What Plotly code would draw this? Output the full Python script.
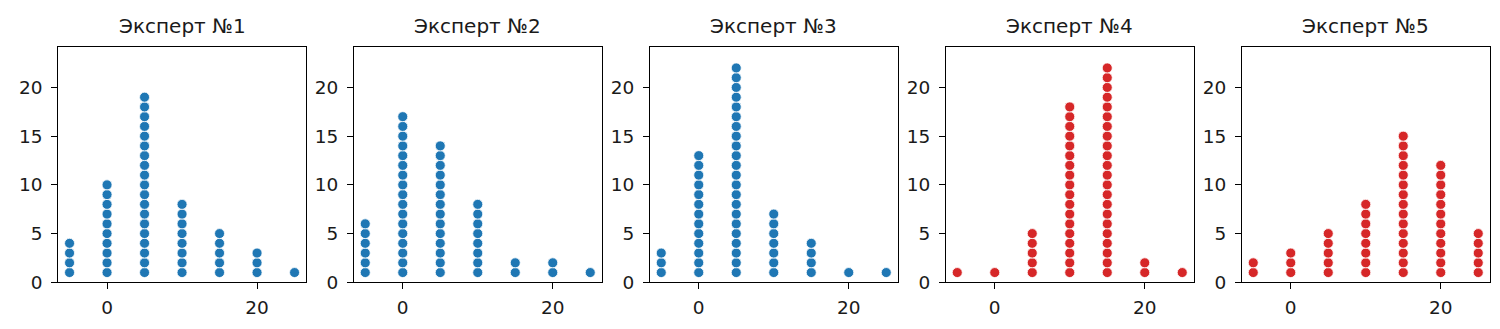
import plotly.graph_objects as go

titles = ["Эксперт №1", "Эксперт №2", "Эксперт №3", "Эксперт №4", "Эксперт №5"]
bins = [-5, 0, 5, 10, 15, 20, 25]
counts_1 = [4, 10, 19, 8, 5, 3, 1]
counts_2 = [6, 17, 14, 8, 2, 2, 1]
counts_3 = [3, 13, 22, 7, 4, 1, 1]
counts_4 = [1, 1, 5, 18, 22, 2, 1]
counts_5 = [2, 3, 5, 8, 15, 12, 5]
all_counts = [counts_1, counts_2, counts_3, counts_4, counts_5]
colors = ["#1f77b4", "#1f77b4", "#1f77b4", "#d62728", "#d62728"]

W, H = 1500, 329
lefts = [58.3, 354, 650, 946, 1242]
pw = 247.5
top, bottom = 46.5, 282.3

fig = go.Figure()
ymax = max(max(c) for c in all_counts) * 1.1
for i, (counts, col) in enumerate(zip(all_counts, colors)):
    xs, ys = [], []
    for b, c in zip(bins, counts):
        for k in range(1, c + 1):
            xs.append(b)
            ys.append(k)
    n = "" if i == 0 else str(i + 1)
    fig.add_trace(go.Scatter(
        x=xs, y=ys, mode="markers", xaxis="x" + n, yaxis="y" + n,
        marker=dict(size=10, color=col, line=dict(color="white", width=0.8)),
        showlegend=False, hoverinfo="x+y"))
    dom_x = [lefts[i] / W, (lefts[i] + pw) / W]
    dom_y = [1 - bottom / H, 1 - top / H]
    axcommon = dict(showline=True, mirror=True, linecolor="black", linewidth=1.2,
                    ticks="outside", ticklen=6, tickcolor="black", tickwidth=1.2,
                    showgrid=False, zeroline=False, automargin=False,
                    tickfont=dict(family="DejaVu Sans", size=18.5, color="#1a1a1a"))
    fig.layout["xaxis" + n] = dict(domain=dom_x, anchor="y" + n, range=[-6.5, 26.5],
                                   tickvals=[0, 20], ticklabelstandoff=2, **axcommon)
    fig.layout["yaxis" + n] = dict(domain=dom_y, anchor="x" + n, range=[0, ymax],
                                   tickvals=[0, 5, 10, 15, 20], ticklabelstandoff=5,
                                   **axcommon)
    fig.add_annotation(text=titles[i], xref="paper", yref="paper",
                       x=(lefts[i] + pw / 2) / W, y=1 - 25.7 / H, showarrow=False,
                       xanchor="center", yanchor="middle",
                       font=dict(family="DejaVu Sans", size=20, color="#1a1a1a"))

fig.update_layout(width=W, height=H, margin=dict(l=0, r=0, t=0, b=0),
                  plot_bgcolor="white", paper_bgcolor="white")
fig.write_html("out.html")
